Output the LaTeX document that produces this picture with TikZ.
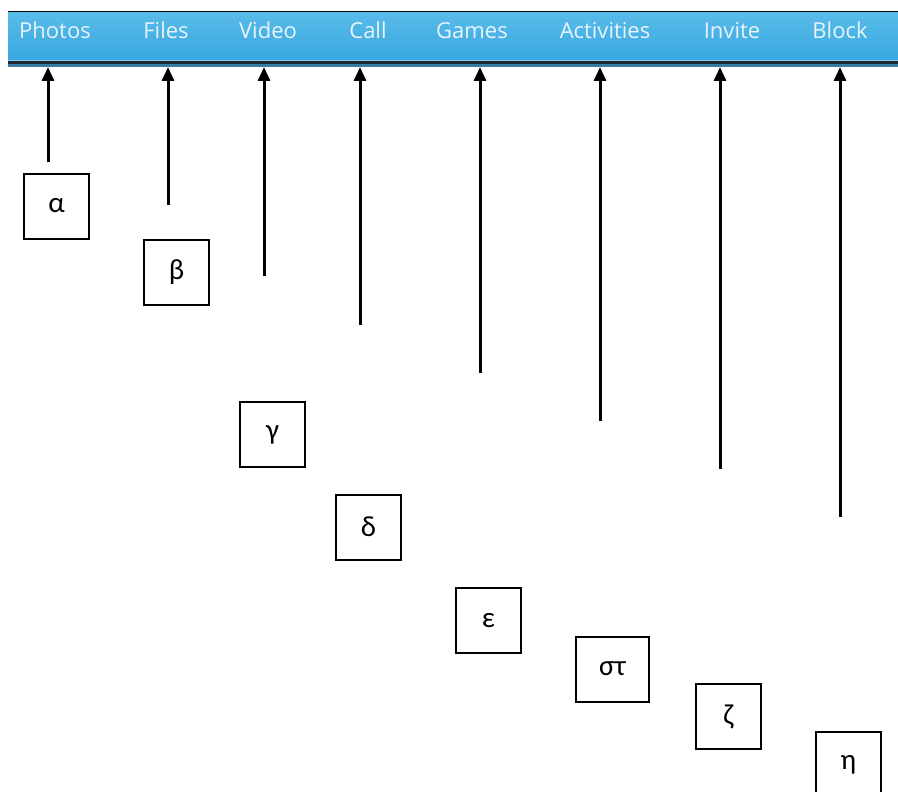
\documentclass[tikz,border=0pt]{standalone}
\usepackage{fontspec}
\setmainfont{Carlito}
\newfontfamily\barfont{Open Sans}
\usetikzlibrary{arrows.meta}
\definecolor{barTop}{HTML}{58BBEA}
\definecolor{barBot}{HTML}{38A8DF}
\definecolor{barLight}{HTML}{8ACDEF}
\definecolor{barDark}{HTML}{1C2730}
\definecolor{barSteel}{HTML}{3A7EA8}
\definecolor{tabText}{HTML}{E8F3FB}
\tikzset{
  tab/.style={text=tabText, font=\barfont\fontsize{22}{24}\selectfont, inner sep=0pt, anchor=base},
  letterbox/.style={draw=black, line width=2pt, minimum width=65pt, minimum height=65pt, inner sep=0pt, font=\fontsize{29}{31}\selectfont},
  pointer/.style={line width=3pt, -{Triangle[width=12pt,length=14pt]}, shorten >=0pt}
}
\begin{document}
\begin{tikzpicture}[x=1pt,y=-1pt]
\useasboundingbox (0,0) rectangle (898,792);
% toolbar
\fill[black] (8,11) rectangle (898,13);
\shade[top color=barTop, bottom color=barBot] (8,13) rectangle (898,60);
\fill[barLight] (8,60) rectangle (898,61);
\fill[barDark] (8,61) rectangle (898,64);
\fill[barSteel] (8,64) rectangle (898,67);
% tabs
\node[tab] (photos) at (55,39) {Photos};
\node[tab] (files) at (166,39) {Files};
\node[tab] (video) at (268,39) {Video};
\node[tab] (call) at (368,39) {Call};
\node[tab] (games) at (472,39) {Games};
\node[tab] (activities) at (605,39) {Activities};
\node[tab] (invite) at (732,39) {Invite};
\node[tab] (block) at (840,39) {Block};
% arrow tips on the bar
\coordinate (tA) at (48,67);
\coordinate (tB) at (168,67);
\coordinate (tC) at (264,67);
\coordinate (tD) at (360,67);
\coordinate (tE) at (480,67);
\coordinate (tF) at (600,67);
\coordinate (tG) at (720,67);
\coordinate (tH) at (840,67);
% arrow free ends
\coordinate (sA) at (48,162);
\coordinate (sB) at (168,205);
\coordinate (sC) at (264,276);
\coordinate (sD) at (360,325);
\coordinate (sE) at (480,373);
\coordinate (sF) at (600,421);
\coordinate (sG) at (720,469);
\coordinate (sH) at (840,517);
\foreach \i in {A,B,C,D,E,F,G,H} \draw[pointer] (s\i) -- (t\i);
% boxes
\node[letterbox] (alpha) at (56.5,206) {α};
\node[letterbox] (beta) at (176.5,272) {β};
\node[letterbox] (gamma) at (272.5,434.5) {γ};
\node[letterbox] (delta) at (368.5,527) {δ};
\node[letterbox] (epsilon) at (488.5,620.5) {ε};
\node[letterbox, minimum width=73pt] (stigma) at (612.5,669) {στ};
\node[letterbox] (zeta) at (728.5,716.5) {ζ};
\node[letterbox] (eta) at (848.5,764.5) {η};
\end{tikzpicture}
\end{document}
